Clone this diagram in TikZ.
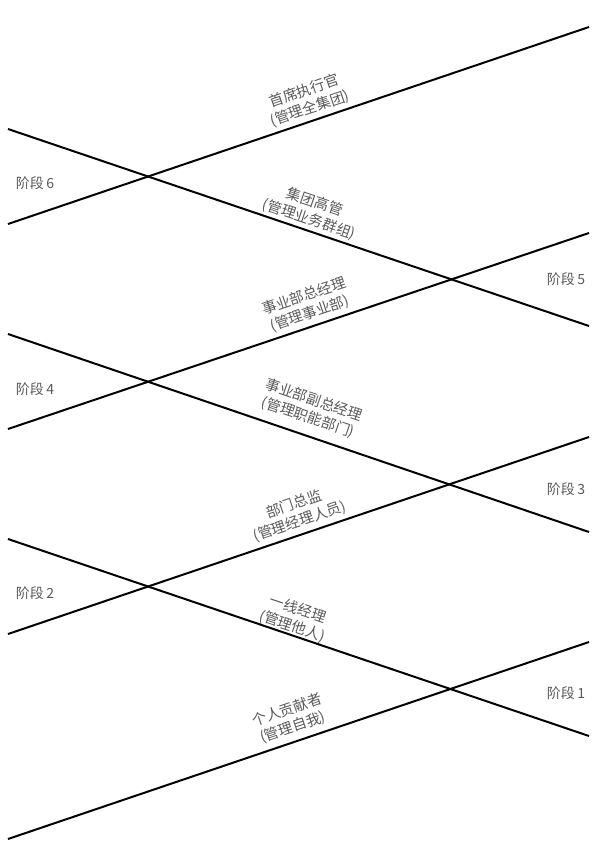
\documentclass[tikz,border=0pt]{standalone}
\usepackage{fontspec}
\newfontfamily\cjk{Noto Sans CJK SC}
\begin{document}
\begin{tikzpicture}[x=1pt,y=-1pt,
  ln/.style={line width=2pt,black},
  lab/.style={text=black!65,font=\cjk\fontsize{14.5}{18}\selectfont,align=center,inner sep=0pt},
  stg/.style={text=black!65,font=\cjk\fontsize{14}{16}\selectfont,inner sep=0pt}]
\useasboundingbox (0,0) rectangle (600,855);
% rising lines
\coordinate (r1a) at (8,839); \coordinate (r1b) at (589,642);
\coordinate (r2a) at (8,634); \coordinate (r2b) at (589,437);
\coordinate (r3a) at (8,429); \coordinate (r3b) at (589,233);
\coordinate (r4a) at (8,224); \coordinate (r4b) at (589,27);
% falling lines
\coordinate (f1a) at (8,539); \coordinate (f1b) at (589,736);
\coordinate (f2a) at (8,334); \coordinate (f2b) at (589,532);
\coordinate (f3a) at (8,129); \coordinate (f3b) at (589,326);
\draw[ln] (r1a) -- (r1b);
\draw[ln] (r2a) -- (r2b);
\draw[ln] (r3a) -- (r3b);
\draw[ln] (r4a) -- (r4b);
\draw[ln] (f1a) -- (f1b);
\draw[ln] (f2a) -- (f2b);
\draw[ln] (f3a) -- (f3b);
% role labels
\node[lab,rotate=18.7] (l7) at (307,100) {首席执行官\\(管理全集团)};
\node[lab,rotate=-18.7] (l6) at (312,211) {集团高管\\(管理业务群组)};
\node[lab,rotate=18.7] (l5) at (307,305) {事业部总经理\\(管理事业部)};
\node[lab,rotate=-18.7] (l4) at (311,409) {事业部副总经理\\(管理职能部门)};
\node[lab,rotate=18.7] (l3) at (297,513) {部门总监\\(管理经理人员)};
\node[lab,rotate=-18.7] (l2) at (295,618) {一线经理\\(管理他人)};
\node[lab,rotate=18.7] (l1) at (290,719) {个人贡献者\\(管理自我)};
% stage labels
\node[stg] (s6) at (35,183) {阶段\,6};
\node[stg] (s4) at (35,389) {阶段\,4};
\node[stg] (s2) at (35,593) {阶段\,2};
\node[stg] (s5) at (566,279) {阶段\,5};
\node[stg] (s3) at (566,489) {阶段\,3};
\node[stg] (s1) at (566,693) {阶段\,1};
\end{tikzpicture}
\end{document}
